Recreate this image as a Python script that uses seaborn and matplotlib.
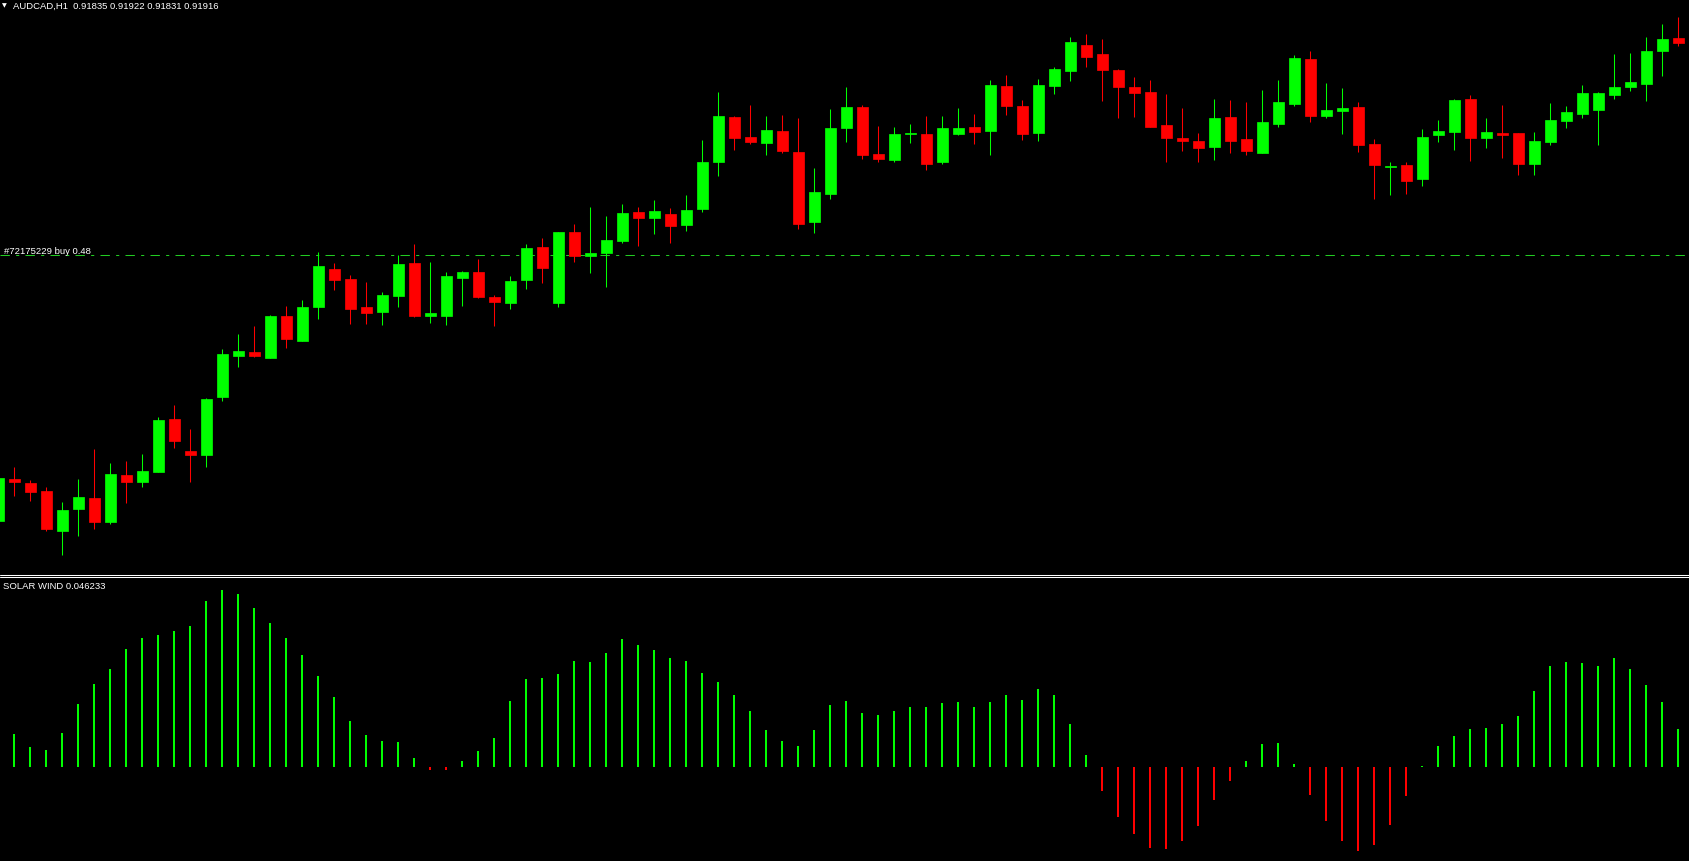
"""AUDCAD H1 candles with the SOLAR WIND histogram underneath (MT4 style)."""

import matplotlib

matplotlib.use("Agg")
import matplotlib.pyplot as plt
from matplotlib.lines import Line2D
import numpy as np
import seaborn as sns

# --- data --------------------------------------------------------------------
symbol_title = "AUDCAD,H1  0.91835 0.91922 0.91831 0.91916"
order_label = "#72175229 buy 0.48"
order_price = 0.91276
indicator_label = "SOLAR WIND 0.046233"

open_ = [
    0.90558, 0.90670, 0.90660, 0.90638, 0.90531, 0.90588, 0.90619, 0.90555, 0.90681, 0.90661,
    0.90688, 0.90833, 0.90747, 0.90734, 0.90893, 0.91004, 0.91014, 0.90998, 0.91111, 0.91044,
    0.91136, 0.91238, 0.91211, 0.91135, 0.91123, 0.91166, 0.91254, 0.91112, 0.91112, 0.91215,
    0.91230, 0.91162, 0.91147, 0.91207, 0.91298, 0.91147, 0.91338, 0.91274, 0.91280, 0.91315,
    0.91392, 0.91377, 0.91387, 0.91358, 0.91399, 0.91526, 0.91649, 0.91595, 0.91580, 0.91611,
    0.91554, 0.91366, 0.91442, 0.91620, 0.91676, 0.91549, 0.91534, 0.91602, 0.91603, 0.91526,
    0.91604, 0.91622, 0.91612, 0.91733, 0.91679, 0.91607, 0.91734, 0.91774, 0.91844, 0.91819,
    0.91776, 0.91730, 0.91717, 0.91627, 0.91592, 0.91584, 0.91569, 0.91649, 0.91590, 0.91553,
    0.91631, 0.91685, 0.91806, 0.91653, 0.91666, 0.91676, 0.91576, 0.91515, 0.91519, 0.91482,
    0.91599, 0.91609, 0.91698, 0.91591, 0.91606, 0.91606, 0.91523, 0.91582, 0.91639, 0.91658,
    0.91669, 0.91709, 0.91731, 0.91739, 0.91828, 0.91863,
]
high = [
    0.90678, 0.90703, 0.90668, 0.90650, 0.90608, 0.90670, 0.90751, 0.90714, 0.90719, 0.90738,
    0.90838, 0.90870, 0.90806, 0.90889, 0.91022, 0.91062, 0.91084, 0.91114, 0.91138, 0.91154,
    0.91284, 0.91254, 0.91222, 0.91203, 0.91176, 0.91276, 0.91306, 0.91257, 0.91230, 0.91233,
    0.91265, 0.91168, 0.91219, 0.91306, 0.91322, 0.91338, 0.91360, 0.91406, 0.91381, 0.91414,
    0.91406, 0.91425, 0.91403, 0.91438, 0.91587, 0.91717, 0.91652, 0.91681, 0.91652, 0.91655,
    0.91647, 0.91511, 0.91671, 0.91730, 0.91681, 0.91625, 0.91622, 0.91630, 0.91652, 0.91652,
    0.91673, 0.91657, 0.91749, 0.91763, 0.91695, 0.91752, 0.91784, 0.91865, 0.91873, 0.91860,
    0.91779, 0.91757, 0.91749, 0.91711, 0.91673, 0.91606, 0.91698, 0.91695, 0.91690, 0.91722,
    0.91749, 0.91817, 0.91827, 0.91741, 0.91727, 0.91690, 0.91590, 0.91527, 0.91527, 0.91617,
    0.91641, 0.91698, 0.91708, 0.91646, 0.91681, 0.91606, 0.91608, 0.91687, 0.91679, 0.91736,
    0.91717, 0.91819, 0.91822, 0.91865, 0.91900, 0.91919,
]
low = [
    0.90553, 0.90625, 0.90611, 0.90531, 0.90466, 0.90515, 0.90536, 0.90548, 0.90606, 0.90650,
    0.90688, 0.90755, 0.90661, 0.90704, 0.90882, 0.90974, 0.90999, 0.90998, 0.91025, 0.91044,
    0.91104, 0.91180, 0.91089, 0.91089, 0.91088, 0.91134, 0.91109, 0.91093, 0.91088, 0.91139,
    0.91161, 0.91085, 0.91131, 0.91185, 0.91201, 0.91134, 0.91258, 0.91228, 0.91190, 0.91307,
    0.91301, 0.91334, 0.91307, 0.91342, 0.91393, 0.91490, 0.91561, 0.91577, 0.91547, 0.91553,
    0.91345, 0.91336, 0.91428, 0.91582, 0.91536, 0.91526, 0.91528, 0.91580, 0.91507, 0.91523,
    0.91601, 0.91577, 0.91545, 0.91655, 0.91588, 0.91585, 0.91712, 0.91747, 0.91785, 0.91693,
    0.91645, 0.91649, 0.91623, 0.91528, 0.91558, 0.91526, 0.91534, 0.91553, 0.91547, 0.91553,
    0.91623, 0.91679, 0.91636, 0.91647, 0.91604, 0.91555, 0.91427, 0.91439, 0.91441, 0.91463,
    0.91582, 0.91561, 0.91531, 0.91566, 0.91539, 0.91493, 0.91493, 0.91574, 0.91618, 0.91647,
    0.91574, 0.91698, 0.91720, 0.91693, 0.91761, 0.91841,
]
close = [
    0.90673, 0.90661, 0.90636, 0.90536, 0.90587, 0.90622, 0.90555, 0.90684, 0.90661, 0.90692,
    0.90830, 0.90774, 0.90734, 0.90887, 0.91008, 0.91016, 0.91004, 0.91111, 0.91048, 0.91135,
    0.91246, 0.91207, 0.91131, 0.91120, 0.91168, 0.91252, 0.91111, 0.91119, 0.91219, 0.91230,
    0.91163, 0.91150, 0.91206, 0.91295, 0.91242, 0.91338, 0.91274, 0.91281, 0.91316, 0.91389,
    0.91377, 0.91395, 0.91355, 0.91398, 0.91527, 0.91652, 0.91591, 0.91582, 0.91614, 0.91558,
    0.91361, 0.91446, 0.91619, 0.91676, 0.91547, 0.91536, 0.91603, 0.91606, 0.91523, 0.91619,
    0.91619, 0.91609, 0.91736, 0.91680, 0.91604, 0.91736, 0.91779, 0.91852, 0.91812, 0.91777,
    0.91731, 0.91715, 0.91623, 0.91593, 0.91585, 0.91566, 0.91646, 0.91585, 0.91558, 0.91635,
    0.91690, 0.91808, 0.91653, 0.91668, 0.91673, 0.91572, 0.91520, 0.91517, 0.91477, 0.91595,
    0.91611, 0.91695, 0.91593, 0.91608, 0.91601, 0.91523, 0.91584, 0.91641, 0.91663, 0.91714,
    0.91714, 0.91730, 0.91744, 0.91827, 0.91860, 0.91850,
]

# SOLAR WIND histogram, bars 1..105 (bar 0 is off the left edge)
wind = [
    0.0401, 0.0241, 0.0205, 0.0413, 0.0769, 0.1014, 0.1198, 0.1444, 0.1579, 0.1616,
    0.1665, 0.1726, 0.2033, 0.2168, 0.2119, 0.1947, 0.1763, 0.1579, 0.1370, 0.1112,
    0.0855, 0.0560, 0.0389, 0.0315, 0.0303, 0.0106, -0.0037, -0.0037, 0.0070, 0.0192,
    0.0352, 0.0806, 0.1076, 0.1088, 0.1137, 0.1297, 0.1284, 0.1395, 0.1566, 0.1493,
    0.1432, 0.1333, 0.1297, 0.1149, 0.1039, 0.0879, 0.0683, 0.0450, 0.0315, 0.0254,
    0.0450, 0.0757, 0.0806, 0.0658, 0.0634, 0.0683, 0.0732, 0.0732, 0.0781, 0.0793,
    0.0732, 0.0793, 0.0879, 0.0818, 0.0953, 0.0879, 0.0524, 0.0143, -0.0299, -0.0618,
    -0.0826, -0.0998, -0.1010, -0.0912, -0.0728, -0.0409, -0.0176, 0.0070, 0.0278, 0.0290,
    0.0033, -0.0348, -0.0667, -0.0912, -0.1035, -0.0961, -0.0716, -0.0360, 0.0008, 0.0254,
    0.0376, 0.0462, 0.0474, 0.0524, 0.0622, 0.0928, 0.1235, 0.1284, 0.1272, 0.1235,
    0.1333, 0.1198, 0.1002, 0.0793, 0.046233,
]

UP = "#00ff00"
DOWN = "#ff0000"
W, H = 1690, 862

sns.set_theme(style="dark", rc={
    "axes.facecolor": "black",
    "figure.facecolor": "black",
    "axes.edgecolor": "black",
})
plt.rcParams["font.family"] = ["Liberation Sans", "DejaVu Sans"]

fig = plt.figure(figsize=(W / 100, H / 100), dpi=100)
ax = fig.add_axes([0, (H - 575) / H, 1, 575 / H])
ax2 = fig.add_axes([0, 0, 1, (H - 578) / H])

o = np.array(open_)
c = np.array(close)
idx = np.arange(len(o))
cols = np.where(c >= o, UP, DOWN)

# wicks then bodies
ax.vlines(idx, low, high, colors=cols, linewidth=0.75, zorder=2)
ax.bar(idx, np.abs(c - o), bottom=np.minimum(o, c), width=0.69,
       color=cols, edgecolor=cols, linewidth=0.5, zorder=3)
ax.axhline(order_price, color="#22cc22", linewidth=0.75,
           linestyle=(0, (9, 6, 3, 6)), zorder=1)

ax.set_xlim(0.104, 105.73)
ax.set_ylim(0.904135, 0.91968)

# indicator
w_idx = np.arange(1, len(wind) + 1)
sign = ["up" if v >= 0 else "down" for v in wind]
sns.barplot(x=w_idx, y=wind, hue=sign, palette={"up": UP, "down": DOWN},
            native_scale=True, width=0.14, dodge=False, errorbar=None,
            saturation=1, linewidth=0, legend=False, ax=ax2)
ax2.set_xlim(0.104, 105.73)
ax2.set_ylim(-0.1157, 0.2328)

for a in (ax, ax2):
    a.set_xticks([])
    a.set_yticks([])
    a.set_xlabel("")
    a.set_ylabel("")
    for s in a.spines.values():
        s.set_visible(False)

# panel separator
for yy in (575.5, 577.5):
    fig.add_artist(Line2D([0, 1], [1 - yy / H] * 2, transform=fig.transFigure,
                          color="white", linewidth=0.75))

fs = 6.8
fig.text(4.5 / W, 1 - 5.3 / H, "\u25bc", color="white", fontsize=4.5,
         ha="center", va="center", family="DejaVu Sans")
fig.text(13 / W, 1 - 8.5 / H, symbol_title, color="white", fontsize=fs,
         ha="left", va="baseline")
fig.text(4 / W, 1 - 253.5 / H, order_label, color="white", fontsize=fs,
         ha="left", va="baseline")
fig.text(3 / W, 1 - 589.5 / H, indicator_label, color="white", fontsize=fs,
         ha="left", va="baseline")

fig.savefig("out.png", dpi=100, facecolor="black")
plt.close(fig)
